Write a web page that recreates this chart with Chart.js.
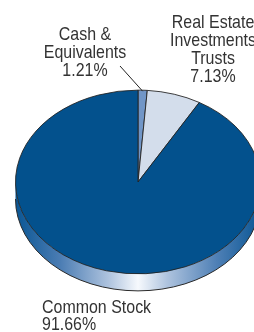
<!DOCTYPE html>
<html>
<head>
<meta charset="utf-8">
<script src="https://cdn.jsdelivr.net/npm/chart.js@4"></script>
<style>
  html, body { margin: 0; padding: 0; background: #fff; overflow: hidden; }
  #wrap { width: 254px; height: 332px; overflow: hidden; position: relative; }
  canvas { display: block; }
</style>
</head>
<body>
<div id="wrap"><canvas id="pie" width="280" height="332"></canvas></div>
<script>
// datos del gráfico
const labels = ['Cash & Equivalents', 'Real Estate Investments Trusts', 'Common Stock']
const values = [1.21, 7.13, 91.66]
const labelLines = [
  ['Cash &', 'Equivalents', '1.21%'],
  ['Real Estate', 'Investments', 'Trusts', '7.13%'],
  ['Common Stock', '91.66%']
]
const colors = ['#7196c7', '#d3ddeb', '#03518d']

const TILT = 0.75
const DEPTH = 17
const FONT = '19px "Liberation Sans", Arial, sans-serif'
const NARROW = 0.84

/* ===============================
   PLUGIN 3D (elipse + lado)
================================ */
const tiltPlugin = {
  id: 'tilt',
  beforeDatasetsDraw(chart) {
    const arc = chart.getDatasetMeta(0).data[0]
    if (!arc) return
    const ctx = chart.ctx
    const cx = arc.x, cy = arc.y, r = arc.outerRadius, ry = r * TILT

    // lado del pastel
    const grad = ctx.createLinearGradient(cx - r, 0, cx + r, 0)
    grad.addColorStop(0, '#0a5694')
    grad.addColorStop(0.18, '#4a7cb3')
    grad.addColorStop(0.38, '#aec3de')
    grad.addColorStop(0.5, '#f6f9fd')
    grad.addColorStop(0.62, '#aec3de')
    grad.addColorStop(0.82, '#4f80b6')
    grad.addColorStop(1, '#0a5694')

    ctx.save()
    ctx.beginPath()
    ctx.moveTo(cx + r, cy)
    ctx.ellipse(cx, cy + DEPTH, r, ry, 0, 0, Math.PI)
    ctx.lineTo(cx - r, cy)
    ctx.ellipse(cx, cy, r, ry, 0, Math.PI, 0, true)
    ctx.closePath()
    ctx.fillStyle = grad
    ctx.fill()
    ctx.beginPath()
    ctx.ellipse(cx, cy + DEPTH, r, ry, 0, 0, Math.PI)
    ctx.strokeStyle = '#2a2a2a'
    ctx.lineWidth = 1
    ctx.stroke()
    ctx.restore()

    // aplastar la cara superior
    ctx.save()
    ctx.translate(cx, cy)
    ctx.scale(1, TILT)
    ctx.translate(-cx, -cy)
  },
  afterDatasetsDraw(chart) {
    chart.ctx.restore()
  }
}

function narrowText(ctx, t, x, y) {
  ctx.save()
  ctx.translate(x, y)
  ctx.scale(NARROW, 1)
  ctx.fillText(t, 0, 0)
  ctx.restore()
}

/* ===============================
   PLUGIN ETIQUETAS
================================ */
const labelPlugin = {
  id: 'pieLabels',
  afterDraw(chart) {
    const ctx = chart.ctx
    const meta = chart.getDatasetMeta(0)
    const cx = meta.data[0].x, cy = meta.data[0].y
    const r = meta.data[0].outerRadius, ry = r * TILT

    ctx.save()
    ctx.font = FONT
    ctx.fillStyle = '#333'
    ctx.textBaseline = 'alphabetic'

    const lh = 18
    // Cash
    ctx.textAlign = 'center'
    labelLines[0].forEach((t, i) => narrowText(ctx, t, 85, 40 + i * lh))
    // Real Estate
    labelLines[1].forEach((t, i) => narrowText(ctx, t, 213, 28 + i * lh))
    // Common Stock
    ctx.textAlign = 'left'
    labelLines[2].forEach((t, i) => narrowText(ctx, t, 42, 313 + i * 17))

    // línea guía del efectivo
    const a = meta.data[0]
    const mid = (a.startAngle + a.endAngle) / 2
    ctx.beginPath()
    ctx.moveTo(120, 66)
    ctx.lineTo(cx + Math.cos(mid) * r, cy + Math.sin(mid) * ry + 1)
    ctx.strokeStyle = '#222'
    ctx.lineWidth = 1
    ctx.stroke()
    ctx.restore()
  }
}

new Chart(document.getElementById('pie'), {
  type: 'pie',
  data: {
    labels: labels,
    datasets: [{
      data: values,
      backgroundColor: colors,
      borderColor: '#222',
      borderWidth: 1
    }]
  },
  options: {
    responsive: false,
    animation: false,
    layout: { padding: { left: 15, right: 19, top: 59, bottom: 27 } },
    plugins: {
      legend: { display: false },
      tooltip: { enabled: false }
    }
  },
  plugins: [tiltPlugin, labelPlugin]
})
</script>
</body>
</html>
